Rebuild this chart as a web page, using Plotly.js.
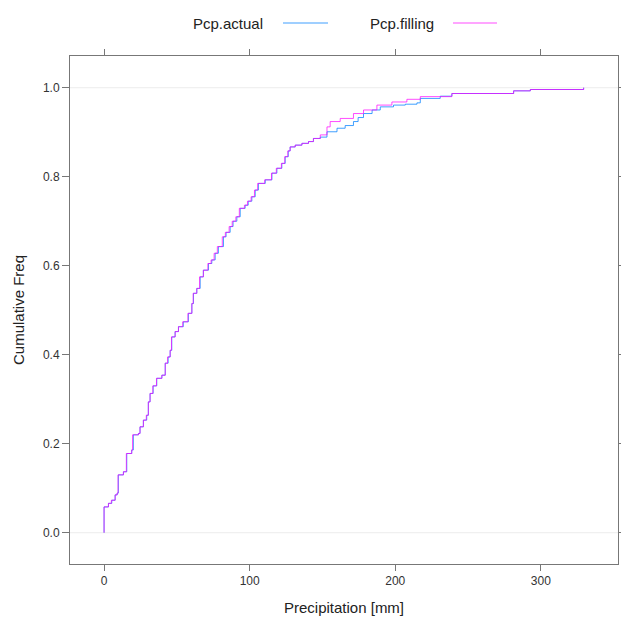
<!DOCTYPE html>
<html>
<head>
<meta charset="utf-8">
<script src="https://cdn.plot.ly/plotly-3.0.1.min.js"></script>
<style>html,body{margin:0;padding:0;background:#fff;}#chart{width:621px;height:617px;}</style>
</head>
<body>
<div id="chart"></div>
<script>
// Series names
const seriesNames = ["Pcp.actual", "Pcp.filling"];

// ECDF step points: precipitation [mm] where the step occurs, cumulative frequency after it
const actualX = [0, 0, 3.0, 5.3, 7.6, 9.0, 9.8, 13.3, 15.6, 19.0, 20.1, 23.6, 24.7, 27.0, 29.3, 30.4, 31.6, 33.7, 36.2, 39.7, 42.0, 44.0, 45.4, 46.5, 48.8, 51.1, 54.4, 57.9, 60.3, 61.4, 63.7, 66.0, 68.2, 71.7, 74.0, 76.3, 78.5, 82.0, 83.8, 86.6, 88.6, 91.2, 93.5, 96.9, 99.0, 101.5, 103.8, 106.0, 110.7, 115.3, 118.7, 122.1, 124.4, 126.5, 127.8, 131.3, 135.9, 140.4, 143.8, 148.5, 153.1, 160.0, 165.6, 171.3, 174.5, 178.2, 184.1, 189.7, 198.8, 206.9, 214.9, 217.2, 230.9, 238.9, 281.3, 292.8, 329.4];
const actualY = [0, 0.058, 0.066, 0.073, 0.085, 0.089, 0.130, 0.137, 0.178, 0.186, 0.220, 0.223, 0.238, 0.253, 0.264, 0.294, 0.313, 0.330, 0.347, 0.354, 0.381, 0.395, 0.410, 0.440, 0.452, 0.463, 0.474, 0.493, 0.515, 0.538, 0.549, 0.575, 0.590, 0.605, 0.613, 0.628, 0.643, 0.665, 0.675, 0.688, 0.700, 0.710, 0.729, 0.736, 0.745, 0.755, 0.770, 0.785, 0.793, 0.808, 0.819, 0.830, 0.845, 0.858, 0.867, 0.871, 0.875, 0.879, 0.886, 0.889, 0.901, 0.909, 0.915, 0.924, 0.933, 0.942, 0.950, 0.957, 0.961, 0.963, 0.966, 0.976, 0.981, 0.987, 0.993, 0.996, 1.0];

const fillingX = [0, 0, 3.0, 5.0, 7.6, 9.0, 9.6, 13.3, 15.3, 19.0, 19.6, 23.6, 24.7, 27.0, 29.0, 30.4, 31.6, 33.5, 36.0, 39.7, 42.0, 43.6, 45.4, 46.3, 48.8, 51.1, 54.0, 57.6, 60.3, 61.2, 63.7, 65.6, 68.2, 71.3, 73.5, 75.6, 77.8, 81.2, 83.3, 85.9, 88.0, 90.5, 92.9, 96.4, 98.5, 101.0, 103.3, 105.5, 110.3, 115.0, 118.3, 121.8, 124.1, 126.2, 127.8, 131.3, 135.9, 140.4, 143.8, 148.5, 153.1, 155.3, 162.2, 171.3, 178.2, 187.4, 197.7, 208.0, 217.2, 238.9, 281.3, 292.8, 329.4];
const fillingY = [0, 0.058, 0.066, 0.073, 0.085, 0.089, 0.130, 0.137, 0.178, 0.186, 0.220, 0.223, 0.238, 0.253, 0.264, 0.294, 0.313, 0.330, 0.347, 0.354, 0.381, 0.395, 0.410, 0.440, 0.452, 0.463, 0.474, 0.493, 0.515, 0.538, 0.549, 0.575, 0.590, 0.605, 0.613, 0.628, 0.643, 0.665, 0.675, 0.688, 0.700, 0.710, 0.729, 0.736, 0.745, 0.755, 0.770, 0.785, 0.793, 0.808, 0.819, 0.830, 0.845, 0.858, 0.867, 0.871, 0.875, 0.879, 0.886, 0.894, 0.912, 0.924, 0.931, 0.942, 0.950, 0.961, 0.968, 0.974, 0.980, 0.987, 0.993, 0.996, 1.0];

// Axis ticks
const xTicks = [0, 100, 200, 300];
const yTicks = [0.0, 0.2, 0.4, 0.6, 0.8, 1.0];
const yTickLabels = ["0.0", "0.2", "0.4", "0.6", "0.8", "1.0"];

const colors = ["#0080ff", "#ff00ff"];
const font = "Liberation Sans, Arial, sans-serif";

const traces = [
  {x: actualX, y: actualY, type: "scatter", mode: "lines", name: seriesNames[0], opacity: 0.75,
   line: {color: colors[0], width: 1, shape: "hv"}, showlegend: false},
  {x: fillingX, y: fillingY, type: "scatter", mode: "lines", name: seriesNames[1], opacity: 0.7,
   line: {color: colors[1], width: 1, shape: "hv"}, showlegend: false}
];

const axisCommon = {
  showgrid: false, zeroline: false, showline: true, mirror: "ticks",
  linecolor: "#777", linewidth: 1, ticks: "outside", ticklen: 6, tickwidth: 1,
  tickcolor: "#777", tickfont: {family: font, size: 12, color: "#333"}
};

const legendY = 1 + (56 - 23) / 508;

const layout = {
  width: 621, height: 617,
  margin: {l: 70, r: 3, t: 56, b: 53},
  paper_bgcolor: "#fff", plot_bgcolor: "#fff",
  showlegend: false,
  xaxis: Object.assign({}, axisCommon, {range: [-23.4, 353], tickvals: xTicks, ticktext: xTicks.map(String)}),
  yaxis: Object.assign({}, axisCommon, {range: [-0.0703, 1.0713], tickvals: yTicks, ticktext: yTickLabels, ticklen: 7}),
  shapes: [
    {type: "line", xref: "paper", yref: "y", x0: 0, x1: 1, y0: 0, y1: 0, line: {color: "#ececec", width: 1}, layer: "below"},
    {type: "line", xref: "paper", yref: "y", x0: 0, x1: 1, y0: 1, y1: 1, line: {color: "#ececec", width: 1}, layer: "below"},
    // legend keys
    {type: "line", xref: "paper", yref: "paper", x0: (283 - 70) / 548, x1: (328 - 70) / 548, y0: legendY, y1: legendY, opacity: 0.75, line: {color: colors[0], width: 1}},
    {type: "line", xref: "paper", yref: "paper", x0: (453 - 70) / 548, x1: (497 - 70) / 548, y0: legendY, y1: legendY, opacity: 0.7, line: {color: colors[1], width: 1}}
  ],
  annotations: [
    {text: seriesNames[0], xref: "paper", yref: "paper", x: (265 - 70) / 548, y: legendY, xanchor: "right", yanchor: "middle", showarrow: false, font: {family: font, size: 15, color: "#222"}},
    {text: seriesNames[1], xref: "paper", yref: "paper", x: (436 - 70) / 548, y: legendY, xanchor: "right", yanchor: "middle", showarrow: false, font: {family: font, size: 15, color: "#222"}},
    {text: "Precipitation [mm]", xref: "paper", yref: "paper", x: 0.5, y: -(607 - 564) / 508, xanchor: "center", yanchor: "middle", showarrow: false, font: {family: font, size: 15, color: "#222"}},
    {text: "Cumulative Freq", xref: "paper", yref: "paper", x: -(70 - 18) / 548, y: 0.5, xanchor: "center", yanchor: "middle", textangle: -90, showarrow: false, font: {family: font, size: 15, color: "#222"}}
  ]
};

Plotly.newPlot("chart", traces, layout, {displayModeBar: false, staticPlot: true});
</script>
</body>
</html>
